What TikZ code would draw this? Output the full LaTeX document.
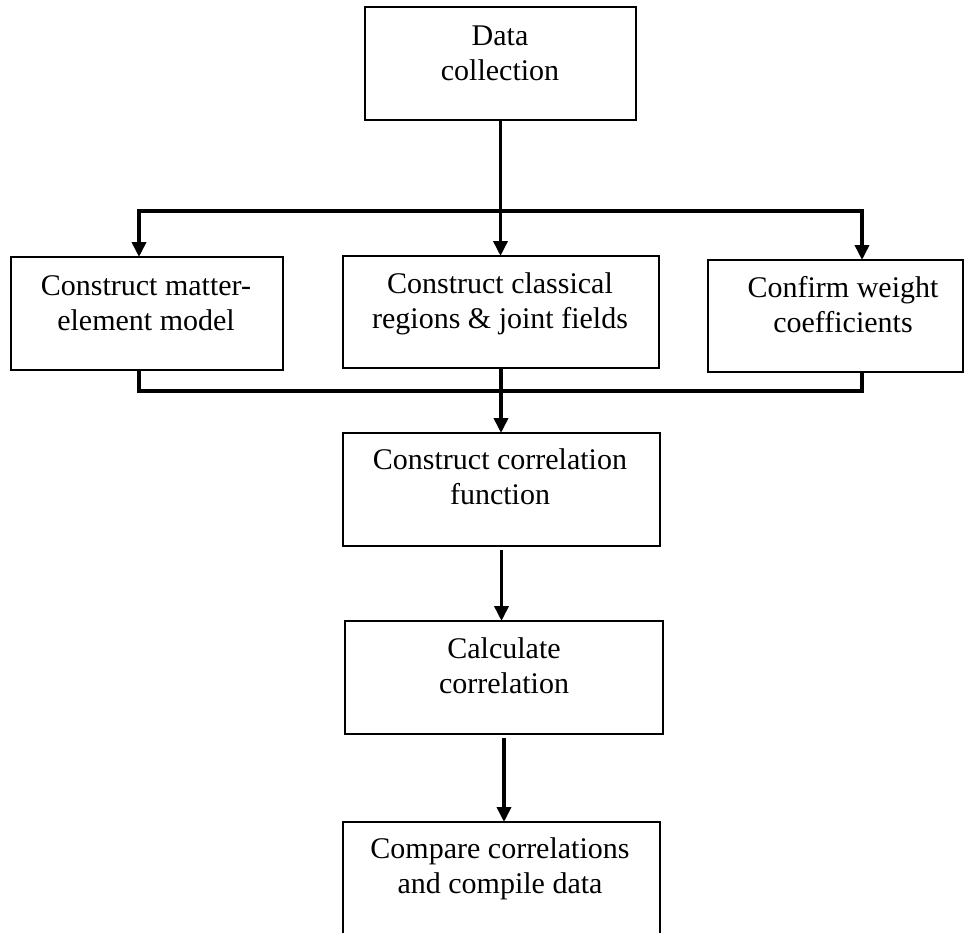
\documentclass[tikz,border=0pt]{standalone}
\usepackage{fontspec}
\setmainfont{Liberation Serif}
\usetikzlibrary{arrows.meta,calc}
\begin{document}
\begin{tikzpicture}[x=1pt,y=-1pt,
  box/.style={draw=black,line width=1.3pt,inner sep=0pt,outer sep=0pt},
  txt/.style={anchor=base,inner sep=0pt,font=\fontsize{30}{35}\selectfont},
  cnct/.style={line width=3.6pt,line join=miter},
  tip/.tip={Triangle[length=15pt,width=14pt]},
  arr/.style={cnct,-tip}]
\useasboundingbox (0,0) rectangle (966,932);
\clip (0,0) rectangle (966,932);
% boxes
\node[box,minimum width=271pt,minimum height=113pt] (b1) at (500.5,63.5) {};
\node[box,minimum width=272pt,minimum height=113pt] (b2) at (147,313.5) {};
\node[box,minimum width=316pt,minimum height=112pt] (b3) at (501,312) {};
\node[box,minimum width=255pt,minimum height=112pt] (b4) at (835.5,316) {};
\node[box,minimum width=317pt,minimum height=113pt] (b5) at (501.5,489.5) {};
\node[box,minimum width=318pt,minimum height=113pt] (b6) at (504,677.5) {};
\node[box,minimum width=317pt,minimum height=123pt] (b7) at (501.5,883.5) {};
% texts
\node[txt] (t1) at (500,45) {\begin{tabular}[t]{@{}c@{}}Data\\collection\end{tabular}};
\node[txt] (t2) at (146,295) {\begin{tabular}[t]{@{}c@{}}Construct matter-\\element model\end{tabular}};
\node[txt] (t3) at (500,293) {\begin{tabular}[t]{@{}c@{}}Construct classical\\regions \& joint fields\end{tabular}};
\node[txt] (t4) at (843,297) {\begin{tabular}[t]{@{}c@{}}Confirm weight\\coefficients\end{tabular}};
\node[txt] (t5) at (500,469) {\begin{tabular}[t]{@{}c@{}}Construct correlation\\function\end{tabular}};
\node[txt] (t6) at (504,658) {\begin{tabular}[t]{@{}c@{}}Calculate\\correlation\end{tabular}};
\node[txt] (t7) at (500,858) {\begin{tabular}[t]{@{}c@{}}Compare correlations\\and compile data\end{tabular}};
% connectors
\coordinate (hL) at (139,211);
\coordinate (hR) at (862,211);
\coordinate (gL) at (139,391);
\coordinate (gR) at (862,391);
\draw[arr] (b1.south) -- (b1.south |- b3.north);
\draw[cnct,tip-tip] (hL |- b2.north) -- (hL) -- (hR) -- (hR |- b4.north);
\draw[cnct] (gL |- b2.south) -- (gL) -- (gR) -- (gR |- b4.south);
\draw[arr] (b3.south) -- (b3.south |- b5.north);
\draw[arr] ($(b5.south)+(0,4)$) -- (b5.south |- b6.north);
\draw[arr] ($(b6.south)+(0,4)$) -- (b6.south |- b7.north);
\end{tikzpicture}
\end{document}
